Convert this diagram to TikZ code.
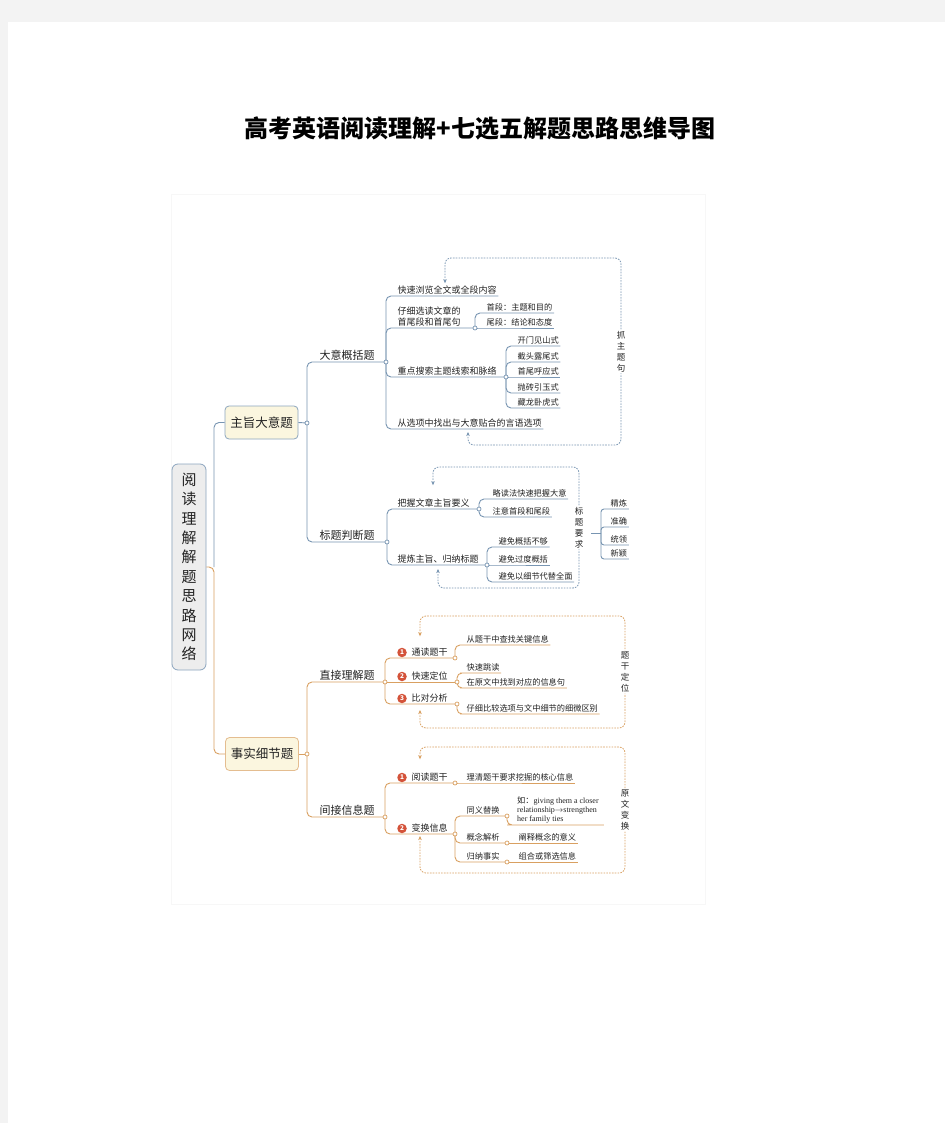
\documentclass[tikz,border=0pt]{standalone}
\usepackage{fontspec}
\setmainfont{Noto Sans CJK SC}
\newfontfamily\enserif{Liberation Serif}
\usetikzlibrary{arrows.meta}

\definecolor{bluel}{HTML}{7895B2}
\definecolor{orgl}{HTML}{D9A061}
\definecolor{badgered}{HTML}{D4533A}
\definecolor{boxfill}{HTML}{FBF6DF}
\definecolor{rootfill}{HTML}{EDEDED}
\definecolor{txt}{HTML}{222222}
\definecolor{pagegray}{HTML}{F3F3F3}

\tikzset{
  bline/.style={draw=bluel, line width=0.9pt, rounded corners=5pt},
  oline/.style={draw=orgl, line width=0.9pt, rounded corners=5pt},
  leaf/.style={anchor=south west, inner xsep=1.5pt, inner ysep=1.5pt, text=txt,
    font=\fontsize{8.2}{10}\selectfont},
  midleaf/.style={leaf, font=\fontsize{9}{11}\selectfont},
  sub/.style={leaf, font=\fontsize{11}{13}\selectfont},
  topic/.style={rounded corners=4pt, fill=boxfill, line width=0.8pt, text=txt,
    minimum width=73pt, minimum height=33pt, font=\fontsize{12.5}{14}\selectfont},
  jdot/.style={circle, draw, fill=white, inner sep=0pt, minimum size=4pt, line width=0.7pt},
  badge/.style={circle, fill=badgered, text=white, inner sep=0pt, minimum size=9.5pt,
    font=\fontsize{6.5}{7}\selectfont\bfseries},
  dloop/.style={dashed, dash pattern=on 1.6pt off 1.2pt, line width=0.8pt, rounded corners=6pt,
    arrows={Stealth[length=4pt,width=3.5pt]-Stealth[length=4pt,width=3.5pt]}},
  looplabel/.style={fill=white, inner sep=1.5pt, align=center, text=txt,
    font=\fontsize{8.5}{11}\selectfont},
}

\begin{document}
\begin{tikzpicture}[x=1pt,y=-1pt]
\useasboundingbox (0,0) rectangle (945,1123);
% page
\fill[pagegray] (0,0) rectangle (945,1123);
\fill[white] (8,22) rectangle (945,1123);
\draw[black!3, fill=white] (171,194) rectangle (705,904);

% Title
\node[font=\fontsize{24}{26}\selectfont\bfseries] (title) at (480,128)
  {高考英语阅读理解+七选五解题思路思维导图};

% Root and main topics
\node[draw=bluel!85, fill=rootfill, rounded corners=6pt, line width=0.8pt, minimum width=34pt,
  minimum height=206pt, align=center, text=txt, font=\fontsize{15}{19.4}\selectfont] (root)
  at (189,567) {阅\\读\\理\\解\\解\\题\\思\\路\\网\\络};
\node[topic, draw=bluel!85] (zhuzhi) at (261.5,422.5) {主旨大意题};
\node[topic, draw=orgl!70] (shishi) at (262,754) {事实细节题};

\coordinate (rj) at (214,567);
\draw[oline] (root.east) -- (rj) |- (shishi.west);
\draw[bline] (rj) |- (zhuzhi.west);

% ---------------- 主旨大意题 ----------------
\coordinate (zj) at (307,423);
\coordinate (dayij) at (386,362);
\coordinate (biaotij) at (387,542);
\draw[bline] (zhuzhi.east) -- (zj);
\node[sub] (dayi) at (318,362) {大意概括题};
\node[sub] (biaoti) at (318,542) {标题判断题};
\draw[bline] (zj) |- (dayij);
\draw[bline] (zj) |- (biaotij);

% 大意概括题
\coordinate (a2j) at (475,328);
\coordinate (a3j) at (506,377);
\node[midleaf] (a1) at (396,296) {快速浏览全文或全段内容};
\node[midleaf, align=left] (a2) at (396,328) {仔细选读文章的\\首尾段和首尾句};
\node[midleaf] (a3) at (396,377) {重点搜索主题线索和脉络};
\node[midleaf] (a4) at (396,429) {从选项中找出与大意贴合的言语选项};
\draw[bline] (dayij) |- (a1.south west) -- (a1.south east);
\draw[bline] (dayij) |- (a2j);
\draw[bline] (dayij) |- (a3j);
\draw[bline] (dayij) |- (a4.south west) -- (a4.south east);

\node[leaf] (a21) at (485,313) {首段：主题和目的};
\node[leaf] (a22) at (485,328) {尾段：结论和态度};
\draw[bline] (a2j) |- (a21.south west) -- (a21.south east);
\draw[bline] (a2j) -- (a22.south west) -- (a22.south east);

\foreach \t/\y [count=\i] in {开门见山式/346, 截头露尾式/362, 抛砖引玉式/393, 藏龙卧虎式/408} {
  \node[leaf] (s\i) at (516,\y) {\t};
  \draw[bline] (a3j) |- (s\i.south west) -- (s\i.south east);
}
\node[leaf] (s0) at (516,377) {首尾呼应式};
\draw[bline] (a3j) -- (s0.south west) -- (s0.south east);

\draw[bluel, dloop] ([xshift=49pt,yshift=1pt]a1.north west) |- (621,258)
  -- node[looplabel] (zhua) {抓\\主\\题\\句} (621,445) -| ([xshift=72pt,yshift=-3pt]a4.south west);

% 标题判断题
\coordinate (b1j) at (479,509);
\coordinate (b2j) at (487,565);
\node[midleaf] (b1) at (396,509) {把握文章主旨要义};
\node[midleaf] (b2) at (396,565) {提炼主旨、归纳标题};
\draw[bline] (biaotij) |- (b1j);
\draw[bline] (biaotij) |- (b2j);

\node[leaf] (b11) at (491,499) {略读法快速把握大意};
\node[leaf] (b12) at (491,517) {注意首段和尾段};
\draw[bline] (b1j) |- (b11.south west) -- (b11.south east);
\draw[bline] (b1j) |- (b12.south west) -- (b12.south east);

\node[leaf] (b21) at (497,547) {避免概括不够};
\node[leaf] (b22) at (497,565) {避免过度概括};
\node[leaf] (b23) at (497,582) {避免以细节代替全面};
\draw[bline] (b2j) |- (b21.south west) -- (b21.south east);
\draw[bline] (b2j) -- (b22.south west) -- (b22.south east);
\draw[bline] (b2j) |- (b23.south west) -- (b23.south east);

\draw[bluel, dloop] ([xshift=37pt,yshift=12pt]b1.north west) |- (579,467)
  -- node[looplabel] (req) {标\\题\\要\\求} (579,588) -| ([xshift=42pt,yshift=-4pt]b2.south west);

% 标题要求
\coordinate (bq) at (601,533);
\draw[bline, shorten <=6pt] (req.east |- bq) -- (bq);
\foreach \t/\y [count=\i] in {精炼/509, 准确/527, 统领/545, 新颖/559} {
  \node[leaf] (r\i) at (609,\y) {\t};
  \draw[bline, rounded corners=3pt] (bq) |- (r\i.south west) -- (r\i.south east);
}

% ---------------- 事实细节题 ----------------
\coordinate (sj) at (307,754);
\coordinate (zhijiej) at (385,682);
\coordinate (jianjiej) at (385,817);
\draw[oline] (shishi.east) -- (sj);
\node[sub] (zhijie) at (318,682) {直接理解题};
\node[sub] (jianjie) at (318,817) {间接信息题};
\draw[oline] (sj) |- (zhijiej);
\draw[oline] (sj) |- (jianjiej);

% 直接理解题
\coordinate (c1j) at (455,658);
\coordinate (c2j) at (457,682);
\coordinate (c3j) at (457,704);
\node[badge] (n1) at (402,652.5) {1};
\node[badge] (n2) at (402,676.5) {2};
\node[badge] (n3) at (402,698.5) {3};
\node[midleaf] (c1) at (410,658) {通读题干};
\node[midleaf] (c2) at (410,682) {快速定位};
\node[midleaf] (c3) at (410,704) {比对分析};
\draw[oline] (zhijiej) |- (c1j);
\draw[oline] (zhijiej) -- (c2j);
\draw[oline] (zhijiej) |- (c3j);

\node[leaf] (c11) at (465,645) {从题干中查找关键信息};
\node[leaf] (c21) at (465,673) {快速跳读};
\node[leaf] (c22) at (465,688) {在原文中找到对应的信息句};
\node[leaf] (c31) at (465,714) {仔细比较选项与文中细节的细微区别};
\draw[oline] (c1j) |- (c11.south west) -- (c11.south east);
\draw[oline] (c2j) |- (c21.south west) -- (c21.south east);
\draw[oline] (c2j) |- (c22.south west) -- (c22.south east);
\draw[oline] (c3j) |- (c31.south west) -- (c31.south east);

\draw[orgl, dloop] ([xshift=10pt,yshift=10pt]c1.north west) |- (625,616)
  -- node[looplabel] (dingwei) {题\\干\\定\\位} (625,728) -| ([xshift=10pt,yshift=-6pt]c3.south west);

% 间接信息题
\coordinate (d1j) at (455,783);
\coordinate (d2j) at (455,834);
\node[badge] (m1) at (402,777.5) {1};
\node[badge] (m2) at (402,828.5) {2};
\node[midleaf] (d1) at (410,783) {阅读题干};
\node[midleaf] (d2) at (410,834) {变换信息};
\draw[oline] (jianjiej) |- (d1j);
\draw[oline] (jianjiej) |- (d2j);

\node[leaf] (d11) at (465,783) {理清题干要求挖掘的核心信息};
\draw[oline] (d1j) -- (d11.south west) -- (d11.south east);

\coordinate (d21j) at (507,816);
\coordinate (d22j) at (507,843);
\coordinate (d23j) at (507,862);
\node[leaf] (d21) at (465,816) {同义替换};
\node[leaf] (d22) at (465,843) {概念解析};
\node[leaf] (d23) at (465,862) {归纳事实};
\draw[oline] (d2j) |- (d21j);
\draw[oline] (d2j) |- (d22j);
\draw[oline] (d2j) |- (d23j);

\node[leaf, align=left, font=\fontsize{8}{9}\selectfont\enserif, inner xsep=5pt] (ex) at (512,825)
  {{\fontsize{8.2}{9}\selectfont\rmfamily\setmainfont{Noto Sans CJK SC}如：}giving them a closer\\relationship$\rightarrow$strengthen\\her family ties};
\node[leaf] (d221) at (517,843) {阐释概念的意义};
\node[leaf] (d231) at (517,862) {组合或筛选信息};
\draw[oline] (d21j) |- (ex.south west) -- (ex.south east);
\draw[oline] (d22j) -- (d221.south west) -- (d221.south east);
\draw[oline] (d23j) -- (d231.south west) -- (d231.south east);

\draw[orgl, dloop] ([xshift=10pt,yshift=12pt]d1.north west) |- (625,747)
  -- node[looplabel] (bianhuan) {原\\文\\变\\换} (625,873) -| ([xshift=10pt,yshift=-2pt]d2.south west);

% junction dots
\foreach \j in {zj, dayij, biaotij, a2j, a3j, b1j, b2j}
  \node[jdot, draw=bluel] at (\j) {};
\foreach \j in {sj, zhijiej, jianjiej, c1j, c2j, c3j, d1j, d2j, d21j, d22j, d23j}
  \node[jdot, draw=orgl] at (\j) {};
\end{tikzpicture}
\end{document}
